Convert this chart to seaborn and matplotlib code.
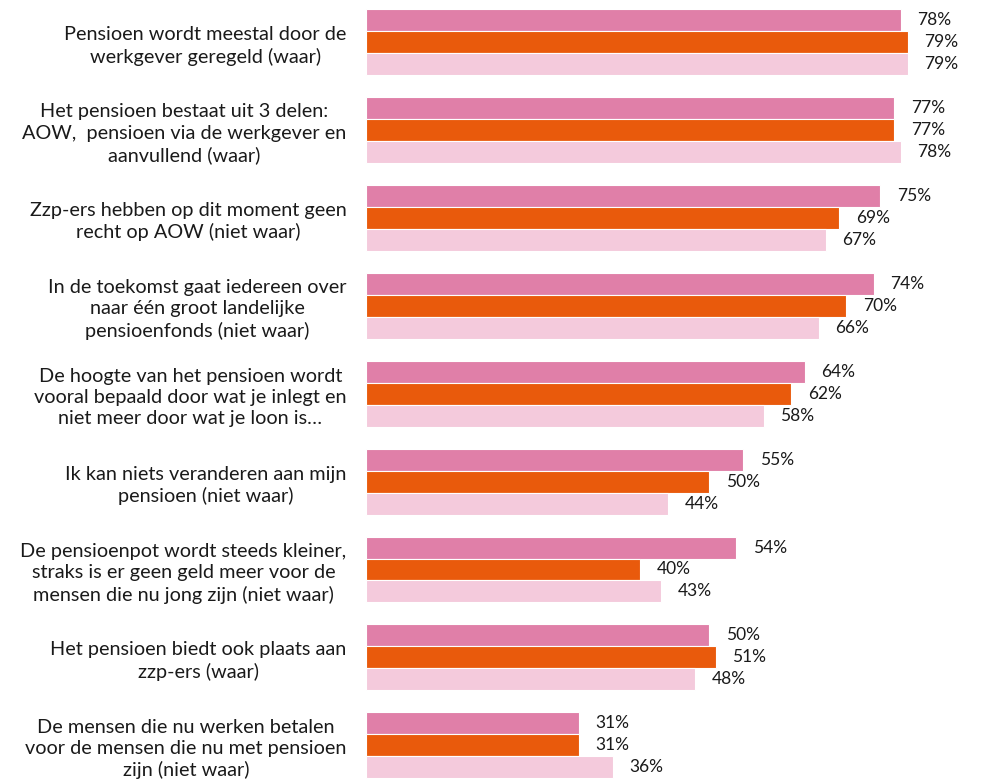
import pandas as pd
import matplotlib.pyplot as plt
import seaborn as sns

statements = ['Pensioen wordt meestal door de\nwerkgever geregeld (waar)',
              'Het pensioen bestaat uit 3 delen:\nAOW,  pensioen via de werkgever en\naanvullend (waar)',
              'Zzp-ers hebben op dit moment geen\nrecht op AOW (niet waar)',
              'In de toekomst gaat iedereen over\nnaar één groot landelijke\npensioenfonds (niet waar)',
              'De hoogte van het pensioen wordt\nvooral bepaald door wat je inlegt en\nniet meer door wat je loon is…',
              'Ik kan niets veranderen aan mijn\npensioen (niet waar)',
              'De pensioenpot wordt steeds kleiner,\nstraks is er geen geld meer voor de\nmensen die nu jong zijn (niet waar)',
              'Het pensioen biedt ook plaats aan\nzzp-ers (waar)',
              'De mensen die nu werken betalen\nvoor de mensen die nu met pensioen\nzijn (niet waar)']
groups = ['Groep 1', 'Groep 2', 'Groep 3']
group1 = [78, 77, 75, 74, 64, 55, 54, 50, 31]
group2 = [79, 77, 69, 70, 62, 50, 40, 51, 31]
group3 = [79, 78, 67, 66, 58, 44, 43, 48, 36]
colors = ['#E07FA8', '#E95A0C', '#F4CADC']

df = pd.DataFrame({'statement': statements * 3,
                   'group': [g for g in groups for _ in statements],
                   'pct': group1 + group2 + group3})

sns.set_style('white')
plt.rcParams['font.family'] = ['Lato', 'DejaVu Sans']

fig = plt.figure(figsize=(9.86, 7.84), dpi=100)
ax = fig.add_axes([366 / 986, 0, 1 - 366 / 986, 1])
sns.barplot(data=df, y='statement', x='pct', hue='group', palette=colors,
            saturation=1, width=0.75, edgecolor='white', linewidth=0.8,
            legend=False, ax=ax)

for c in ax.containers:
    ax.bar_label(c, fmt='%d%%', padding=12, fontsize=12.5, color='#1a1a1a')

ax.set_xlim(0, 90.4)
ax.set_ylim(8.44, -0.478)
ax.set_xlabel('')
ax.set_ylabel('')
ax.set_xticks([])
ax.set_yticks(range(len(statements)))
ax.set_yticklabels(statements, multialignment='center', linespacing=1.3,
                   fontsize=14.3, color='#1a1a1a')
ax.tick_params(axis='y', length=0, pad=14)
sns.despine(ax=ax, left=True, bottom=True)

plt.savefig('out.png', dpi=100)
